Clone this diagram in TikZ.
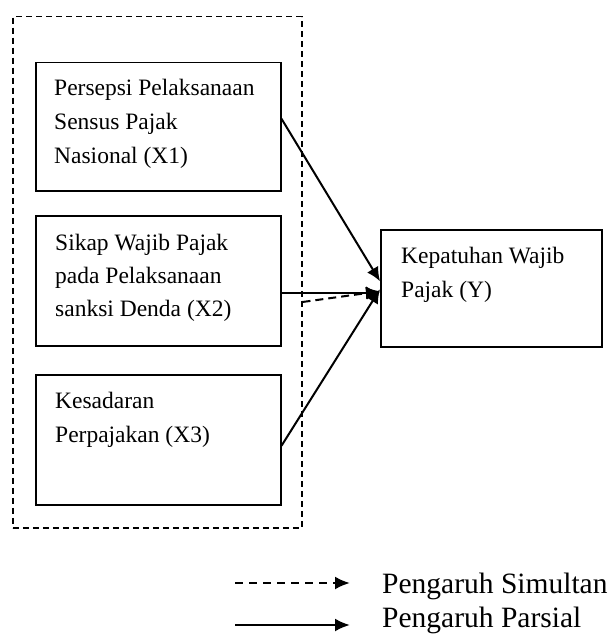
\documentclass[tikz,border=0pt]{standalone}
\usepackage{fontspec}
\setmainfont{Liberation Serif}
\usetikzlibrary{arrows.meta}
\begin{document}
\begin{tikzpicture}[x=1pt,y=-1pt,
  box/.style={draw,line width=1.5pt,anchor=north west,inner sep=0pt},
  frame/.style={draw,line width=1.5pt,dash pattern=on 6pt off 4pt,anchor=north west,inner sep=0pt},
  txt/.style={anchor=base west,inner sep=0pt,font=\fontsize{23.5}{27}\selectfont},
  ltxt/.style={anchor=base west,inner sep=0pt,font=\fontsize{29.5}{33}\selectfont},
  conn/.style={line width=2pt,-{Latex[length=14pt,width=13pt]}},
  dconn/.style={conn,dash pattern=on 8pt off 5pt},
  lconn/.style={line width=2.4pt,-{Latex[length=15pt,width=13pt]}}]
\useasboundingbox (0,0) rectangle (613,634);
\node[frame,minimum width=289pt,minimum height=511pt] (fr) at (12,16) {};
\node[box,minimum width=245pt,minimum height=128pt] (x1) at (35,62) {};
\node[box,minimum width=245pt,minimum height=130pt] (x2) at (35,215) {};
\node[box,minimum width=245pt,minimum height=130pt] (x3) at (35,374) {};
\node[box,minimum width=221pt,minimum height=117pt] (yy) at (380,229) {};
\node[txt] (t1a) at (54,95) {Persepsi Pelaksanaan};
\node[txt] (t1b) at (54,129) {Sensus Pajak};
\node[txt] (t1c) at (54,163) {Nasional (X1)};
\node[txt] (t2a) at (55,250) {Sikap Wajib Pajak};
\node[txt] (t2b) at (55,283) {pada Pelaksanaan};
\node[txt] (t2c) at (55,316) {sanksi Denda (X2)};
\node[txt] (t3a) at (55,408) {Kesadaran};
\node[txt] (t3b) at (55,442) {Perpajakan (X3)};
\node[txt] (tya) at (401,263) {Kepatuhan Wajib};
\node[txt] (tyb) at (401,297) {Pajak (Y)};
\coordinate (s1) at ([yshift=8pt]x1.east);
\coordinate (s2) at ([yshift=-12pt]x2.east);
\coordinate (s3) at ([yshift=-6pt]x3.east);
\coordinate (sd) at (fr.east |- 0,302);
\coordinate (e1) at ([yshift=7pt]yy.west);
\coordinate (e2) at ([yshift=-4.5pt]yy.west);
\coordinate (e3) at ([yshift=-1pt]yy.west);
\coordinate (ed) at ([yshift=-3pt]yy.west);
\draw[conn] (s1) -- (e1);
\draw[conn] (s2) -- (e2);
\draw[conn] (s3) -- (e3);
\draw[dconn] (sd) -- (ed);
\coordinate (la) at (235,583);
\coordinate (lb) at (350,583);
\coordinate (lc) at (235,625);
\coordinate (ld) at (350,625);
\draw[lconn,dash pattern=on 8pt off 6pt] (la) -- (lb);
\draw[lconn] (lc) -- (ld);
\node[ltxt] (l1) at (382,593) {Pengaruh Simultan};
\node[ltxt] (l2) at (382,627) {Pengaruh Parsial};
\end{tikzpicture}
\end{document}
